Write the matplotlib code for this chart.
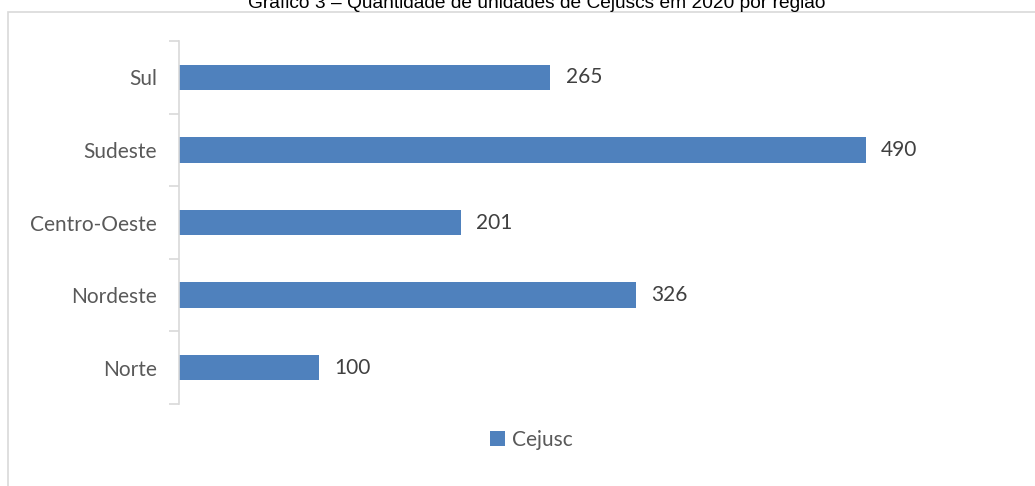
import matplotlib.pyplot as plt
from matplotlib.patches import Rectangle

regions = ['Norte', 'Nordeste', 'Centro-Oeste', 'Sudeste', 'Sul']
cejusc = [100, 326, 201, 490, 265]
series_name = 'Cejusc'
title = 'Gráfico 3 – Quantidade de unidades de Cejuscs em 2020 por região'

W, H = 1035, 486
bar_color = '#4f81bd'
label_font = ['Lato', 'DejaVu Sans']
fs = 15

fig = plt.figure(figsize=(W / 100, H / 100), dpi=100)

# chart frame (runs off the right and bottom edges like the source crop)
fig.patches.append(Rectangle((8 / W, -0.1), 1.2, 1 - 12.5 / H + 0.1,
                             transform=fig.transFigure, fill=False,
                             edgecolor='#d9d9d9', linewidth=1.2))

# title, clipped at top of the image as in the source
fig.text(537 / W, 1 - 8 / H, title, ha='center', va='baseline',
         fontsize=13.8, family=['Liberation Sans', 'DejaVu Sans'], color='#000000')

ax = fig.add_axes([179 / W, 1 - 404 / H, (1020 - 179) / W, (404 - 41) / H])
y = range(len(regions))
bars = ax.barh(y, cejusc, height=0.35, color=bar_color, label=series_name)

ax.set_xlim(0, 600)
ax.set_ylim(-0.5, len(regions) - 0.5)
ax.set_yticks(list(y))
ax.set_yticklabels(regions, family=label_font, fontsize=fs, color='#595959')
ax.set_yticks([i - 0.5 for i in range(len(regions) + 1)], minor=True)
ax.tick_params(axis='y', which='major', length=0, pad=16)
ax.tick_params(axis='y', which='minor', length=7, color='#d9d9d9', width=1.2)
ax.set_xticks([])

for s in ['top', 'right', 'bottom']:
    ax.spines[s].set_visible(False)
ax.spines['left'].set_color('#d9d9d9')
ax.spines['left'].set_linewidth(1.2)

for b, v in zip(bars, cejusc):
    ax.text(v + 11, b.get_y() + b.get_height() / 2, str(v), va='center', ha='left',
            family=label_font, fontsize=fs, color='#404040')

fig.legend(loc='center', bbox_to_anchor=(531 / W, 1 - 440 / H), frameon=False,
           prop={'family': label_font, 'size': fs}, labelcolor='#595959',
           handlelength=0.75, handleheight=0.75, handletextpad=0.3)

fig.savefig('out.png', dpi=100)
